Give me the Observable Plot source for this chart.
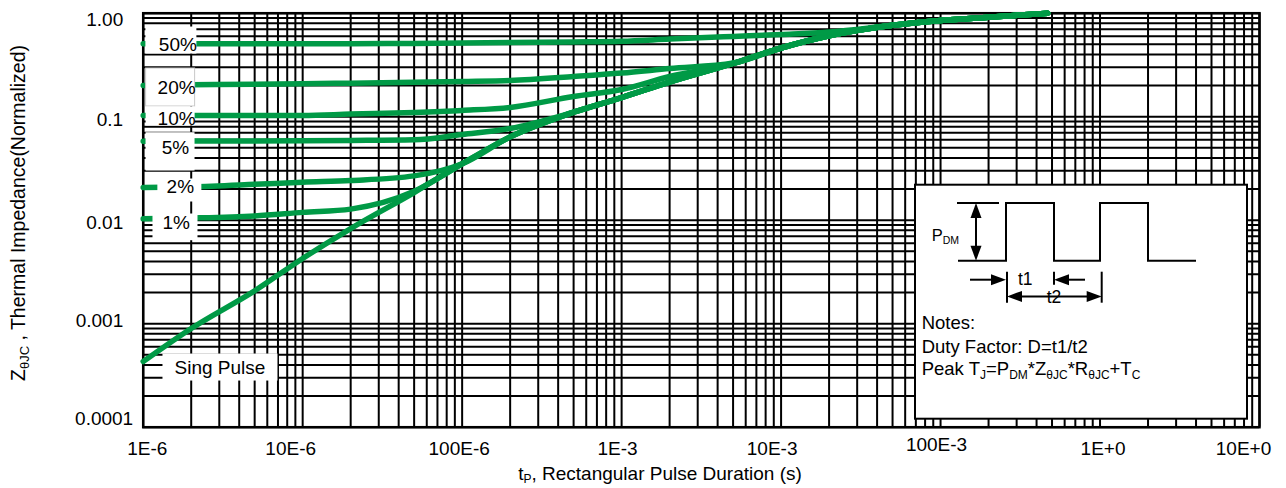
<!DOCTYPE html>
<html><head><meta charset="utf-8">
<script src="https://cdn.jsdelivr.net/npm/d3@7"></script>
<script src="https://cdn.jsdelivr.net/npm/@observablehq/plot@0.6"></script>
<style>
body{margin:0;background:#fff;}
svg{display:block}
</style></head><body><div id="chart"></div>
<script>
// ---- data ----
const tGrid = [1e-6,2e-6,5e-6,1e-5,2e-5,5e-5,1e-4,2e-4,5e-4,1e-3,2e-3,5e-3,1e-2,2e-2,5e-2,1e-1,2e-1,0.47];
const zSingle = [4.31e-4,8.99e-4,2.08e-3,4.27e-3,8.31e-3,0.0185,0.0351,0.0638,0.1105,0.153,0.216,0.327,0.461,0.605,0.764,0.85,0.915,1.0];
const z1pct  = [0.0103,0.0105,0.0110,0.0119,0.0128,0.0190,0.0351,0.0638,0.1105,0.153,0.216,0.327,0.461,0.605,0.764,0.85,0.915,1.0];
const z2pct  = [0.0207,0.0210,0.0222,0.0233,0.0242,0.0268,0.0351,0.0638,0.1105,0.153,0.216,0.327,0.461,0.605,0.764,0.85,0.915,1.0];
const z5pct  = [0.0580,0.0582,0.0584,0.0586,0.0590,0.0598,0.0673,0.0769,0.1105,0.153,0.216,0.327,0.461,0.605,0.764,0.85,0.915,1.0];
const z10pct = [0.1027,0.1027,0.1027,0.1027,0.1060,0.1100,0.1150,0.1230,0.1570,0.183,0.2446,0.327,0.461,0.605,0.764,0.85,0.915,1.0];
const z20pct = [0.2001,0.2030,0.2060,0.2080,0.2110,0.2150,0.2190,0.2240,0.2445,0.264,0.292,0.330,0.461,0.605,0.764,0.85,0.915,1.0];
const z50pct = [0.506,0.506,0.506,0.507,0.508,0.511,0.515,0.520,0.528,0.536,0.562,0.596,0.623,0.658,0.764,0.85,0.915,1.0];
const seriesNames = ["Sing Pulse","1%","2%","5%","10%","20%","50%"];
const seriesZ = [zSingle,z1pct,z2pct,z5pct,z10pct,z20pct,z50pct];

const labelText = ["50%","20%","10%","5%","2%","1%","Sing Pulse"];
const labelT = [1.65e-6,1.62e-6,1.62e-6,1.595e-6,1.71e-6,1.61e-6,3.03e-6];
const labelZ = [0.498,0.1894,0.0961,0.0498,0.02116,0.00935,3.77e-4];

const xTicks = [1e-6,1e-5,1e-4,1e-3,1e-2,1e-1,1,10];
const xTickLabels = ["1E-6","10E-6","100E-6","1E-3","10E-3","100E-3","1E+0","10E+0"];
const yTicks = [1,0.1,0.01,0.001,0.0001];
const yTickLabels = ["1.00","0.1","0.01","0.001","0.0001"];

// ---- styling / layout helpers ----
const green = "#009a46";
const font = "'Liberation Sans', Arial, Helvetica, sans-serif";
const xLabelDx = [4,-12,-3,-4,-9,-4,3,-16];
const xLabelDy = [22,22,22,22,22,18,22,22];
const yLabelDy = [7,3,3,-3,-8];
const yLabelDx = [-20,-20,-20,-20,-10];
// label boxes: [left, right, top, bottom] offsets in px from label anchor
const labelBox = [[32.5,18.5,18,9],[31,18,20,18],[31,18,12,7],[30,19,15.8,22.5],[23,21,8,15],[23.7,21.3,9.7,17],[57.5,57.5,14,13]];

const rows = seriesNames.flatMap((name,i)=> tGrid.map((t,j)=>({series:name, t, z: seriesZ[i][j]})));
const labels = labelText.map((label,i)=>({label, t: labelT[i], z: labelZ[i]}));

const xGrid = []; for (let e=-6;e<=0;e++) for (let k=1;k<=9;k++) xGrid.push(k*Math.pow(10,e)); xGrid.push(10);
const yGrid = []; for (let e=-4;e<=-1;e++) for (let k=1;k<=9;k++) yGrid.push(k*Math.pow(10,e)); yGrid.push(1);

const W = 1286, H = 488, mL = 142.7, mR = 27, mT = 12.7, mB = 61.3;

const plot = Plot.plot({
  width: W, height: H,
  marginLeft: mL, marginRight: mR, marginTop: mT, marginBottom: mB,
  x: {type: "log", domain: [1e-6, 10], axis: null},
  y: {type: "log", domain: [1e-4, 1], axis: null},
  style: {fontFamily: font, fontSize: "19px", background: "white", color: "black"},
  marks: [
    Plot.ruleX(xGrid, {stroke: "black", strokeWidth: 2}),
    Plot.ruleY(yGrid, {stroke: "black", strokeWidth: 2}),
    Plot.frame({stroke: "black", strokeWidth: 2.5}),
    Plot.line(rows, {x: "t", y: "z", z: "series", stroke: green, strokeWidth: 5.5, curve: "monotone-x", strokeLinejoin: "round"}),
    Plot.text(labels, {x: "t", y: "z", text: "label", fontSize: 19, fill: "black", ariaDescription: "duty labels"}),
    ...yTicks.map((v,i)=> Plot.text([i], {x: () => 1e-6, y: i => yTicks[i], text: i => yTickLabels[i], textAnchor: "end", dx: yLabelDx[i], dy: yLabelDy[i], fontSize: 19, fill: "black"})),
    ...xTicks.map((v,i)=> Plot.text([i], {x: i => xTicks[i], y: () => 1e-4, text: i => xTickLabels[i], dx: xLabelDx[i], dy: xLabelDy[i], fontSize: 19, fill: "black"}))
  ]
});
document.getElementById("chart").appendChild(plot);

const svg = d3.select(plot);
const xs = plot.scale("x"), ys = plot.scale("y");

// white boxes behind the series labels
const lg = svg.select('g[aria-description="duty labels"]');
lg.selectAll("text").each(function(d, k){
  const i = k;
  const cx = xs.apply(labelT[i]), cy = ys.apply(labelZ[i]);
  const [l, r, t, b] = labelBox[i];
  const rect = document.createElementNS("http://www.w3.org/2000/svg", "rect");
  rect.setAttribute("x", cx - l); rect.setAttribute("y", cy - t);
  rect.setAttribute("width", l + r); rect.setAttribute("height", t + b);
  rect.setAttribute("fill", "white");
  if (i === 1) { rect.setAttribute("stroke", "#c8c8c8"); rect.setAttribute("stroke-width", 1); }
  this.parentNode.insertBefore(rect, this);
});

// helper: text with subscripts; parts = [[text, isSub], ...]
function richText(sel, parts, subSize, shift) {
  let down = false;
  parts.forEach(([s, isSub]) => {
    const ts = sel.append("tspan").text(s);
    if (isSub) { ts.attr("font-size", subSize); if (!down) { ts.attr("dy", shift); down = true; } }
    else if (down) { ts.attr("dy", -shift); down = false; }
  });
}

// axis titles
const yt = svg.append("text").attr("transform", "translate(25,213) rotate(-90)")
  .attr("text-anchor", "middle").attr("font-size", 19.5).attr("fill", "black").attr("font-family", font);
richText(yt, [["Z",0],["θJC",1],[" , Thermal Impedance(Normalized)",0]], 13, 4);

const xt = svg.append("text").attr("x", 660).attr("y", 480)
  .attr("text-anchor", "middle").attr("font-size", 19).attr("fill", "black").attr("font-family", font);
richText(xt, [["t",0],["P",1],[", Rectangular Pulse Duration (s)",0]], 12, 3);

// inset diagram (positioned from the frame's lower-right corner)
const frameR = W - mR, frameB = H - mB;
const iw = 332, ih = 234;
const ix = frameR - 12 - iw, iy = frameB - 8 - ih;
const ins = svg.append("g").attr("transform", `translate(${ix},${iy})`)
  .attr("font-family", font).attr("fill", "black").attr("text-anchor", "start");
ins.append("rect").attr("width", iw).attr("height", ih).attr("fill", "white").attr("stroke", "black").attr("stroke-width", 2);
const ln = (x1,y1,x2,y2,w=2) => ins.append("line").attr("x1",x1).attr("y1",y1).attr("x2",x2).attr("y2",y2).attr("stroke","black").attr("stroke-width",w);
const head = (x,y,dir) => {
  const L = 15, Wd = 5.5; let p;
  if (dir==="r") p = [[x,y],[x-L,y-Wd],[x-L,y+Wd]];
  if (dir==="l") p = [[x,y],[x+L,y-Wd],[x+L,y+Wd]];
  if (dir==="u") p = [[x,y],[x-Wd,y+L],[x+Wd,y+L]];
  if (dir==="d") p = [[x,y],[x-Wd,y-L],[x+Wd,y-L]];
  ins.append("polygon").attr("points", p.map(q=>q.join(",")).join(" ")).attr("fill","black");
};
const pulseTop = 18.3, pulseBase = 76;
ln(42, pulseTop, 84, pulseTop, 1.8);
ins.append("polyline").attr("fill","none").attr("stroke","black").attr("stroke-width",2)
  .attr("points", [[43,pulseBase],[91,pulseBase],[91,pulseTop],[139,pulseTop],[139,pulseBase],[185,pulseBase],[185,pulseTop],[233,pulseTop],[233,pulseBase],[281,pulseBase]].map(q=>q.join(",")).join(" "));
ln(61, pulseTop+8, 61, pulseBase-8, 2); head(61, pulseTop, "u"); head(61, pulseBase, "d");
const pt = ins.append("text").attr("x", 16.7).attr("y", 56.7).attr("font-size", 16.5);
richText(pt, [["P",0],["DM",1]], 10.5, 3);
ln(55, 95, 85, 95, 2); head(91, 95, "r");
ln(92, 87, 92, 118, 2);
ln(170, 95, 146, 95, 2); head(139, 95, "l");
ln(139, 87, 139, 100, 2);
ln(100, 111.7, 180, 111.7, 2); head(92, 111.7, "l"); head(186.7, 111.7, "r");
ln(186.7, 87, 186.7, 118, 2);
ins.append("text").attr("x", 103).attr("y", 100).attr("font-size", 17.5).text("t1");
ins.append("text").attr("x", 131.7).attr("y", 118.3).attr("font-size", 17.5).text("t2");
ins.append("text").attr("x", 6.7).attr("y", 144.5).attr("font-size", 18.5).text("Notes:");
ins.append("text").attr("x", 6.7).attr("y", 168).attr("font-size", 18.5).text("Duty Factor: D=t1/t2");
const pk = ins.append("text").attr("x", 6.7).attr("y", 190).attr("font-size", 18.5);
richText(pk, [["Peak T",0],["J",1],["=P",0],["DM",1],["*Z",0],["θJC",1],["*R",0],["θJC",1],["+T",0],["C",1]], 12, 4);
</script></body></html>
